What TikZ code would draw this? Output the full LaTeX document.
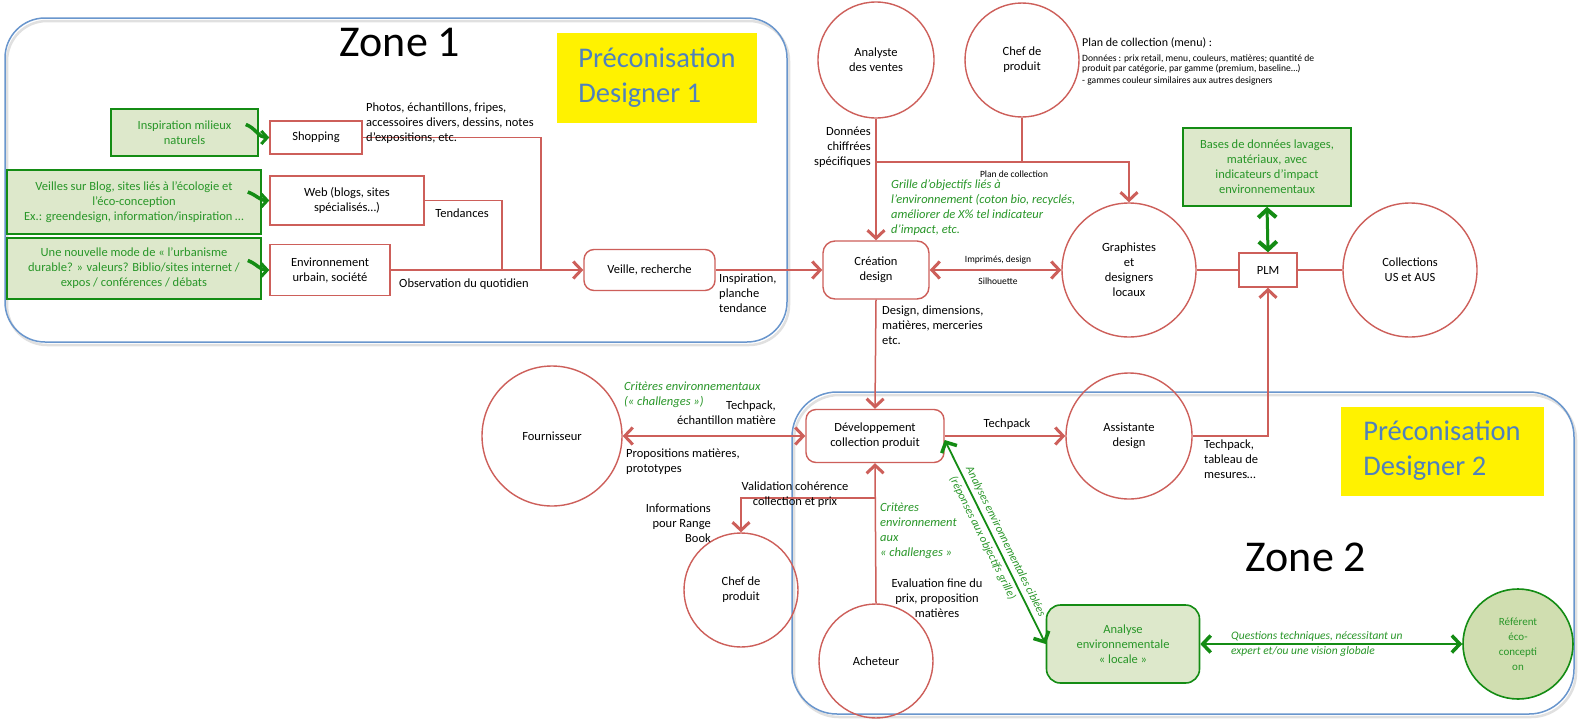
\documentclass[tikz,border=0pt]{standalone}
\usepackage{fontspec}
\setmainfont{Carlito}
\usetikzlibrary{arrows.meta,calc}
\definecolor{redc}{RGB}{205,95,90}
\definecolor{zblue}{RGB}{105,150,205}
\definecolor{ptxt}{RGB}{79,129,189}
\definecolor{gdark}{RGB}{20,140,20}
\definecolor{gtext}{RGB}{40,150,40}
\definecolor{gfill}{RGB}{221,232,203}
\definecolor{gfill2}{RGB}{208,222,176}
\tikzset{
  base/.style={font=\fontsize{12.5}{15}\selectfont, align=center, inner sep=0pt},
  rbox/.style={base, draw=redc, line width=1.4pt, fill=white},
  rcirc/.style={base, draw=redc, line width=1.4pt, circle},
  gbox/.style={base, draw=gdark, line width=1.6pt, fill=gfill, text=gtext},
  lab/.style={font=\fontsize{12.5}{15}\selectfont, inner sep=0pt},
  glab/.style={font=\fontsize{12.5}{15}\selectfont\itshape, inner sep=0pt, text=gtext},
  smalllab/.style={font=\fontsize{9.5}{12}\selectfont, inner sep=0pt},
  zone/.style={draw=zblue, line width=1.5pt},
  zoneshadow/.style={draw=black!12, line width=2.5pt},
  zonetitle/.style={font=\fontsize{44}{50}\selectfont, inner sep=0pt},
  preco/.style={fill=yellow, text=ptxt, font=\fontsize{28.5}{35}\selectfont, align=left, inner sep=0pt},
  rl/.style={draw=redc, line width=1.5pt},
  rarr/.style={rl, -{Straight Barb[length=8pt,width=17pt,line width=3pt]}},
  rdarr/.style={rl, {Straight Barb[length=8pt,width=17pt,line width=3pt]}-{Straight Barb[length=8pt,width=17pt,line width=3pt]}},
  garr/.style={draw=gdark, line width=3.5pt, -{Straight Barb[length=6pt,width=13pt,line width=3pt]}},
  gdarr/.style={draw=gdark, line width=3pt, {Straight Barb[length=8pt,width=18pt,line width=4pt]}-{Straight Barb[length=8pt,width=18pt,line width=4pt]}},
  gdarr2/.style={draw=gdark, line width=1.8pt, {Straight Barb[length=8pt,width=17pt,line width=3.5pt]}-{Straight Barb[length=8pt,width=17pt,line width=3.5pt]}},
  slopelab/.style={sloped, font=\fontsize{11.5}{13}\selectfont\itshape, text=gtext, inner sep=0pt},
}
\begin{document}
\begin{tikzpicture}[x=1pt,y=-1pt]
\useasboundingbox (0,0) rectangle (1579,718);
\fill[white] (0,0) rectangle (1579,718);

% zones
\draw[zoneshadow, rounded corners=40pt] (7,21) rectangle (789,345);
\draw[zoneshadow, rounded corners=45pt] (794,395) rectangle (1576,717);
\draw[zone, rounded corners=40pt] (5,18) rectangle (787,342);
\draw[zone, rounded corners=45pt] (792,392) rectangle (1574,714);
\node[zonetitle] (z1) at (400,42) {Zone 1};
\node[zonetitle] (z2) at (1306,557) {Zone 2};
\node[preco, minimum width=200pt, minimum height=90pt] (p1) at (657,78) {Préconisation\\Designer 1};
\node[preco, minimum width=203pt, minimum height=89pt] (p2) at (1442,451) {Préconisation\\Designer 2};

% green boxes zone 1
\node[gbox, minimum width=147pt, minimum height=47pt] (g1) at (184.5,132.5) {Inspiration milieux\\naturels};
\node[gbox, minimum width=254pt, minimum height=64pt] (g2) at (134,202) {Veilles sur Blog, sites liés à l’écologie et\\l’éco-conception\\Ex.: greendesign, information/inspiration …};
\node[gbox, minimum width=254pt, minimum height=61pt] (g3) at (134,268.5) {Une nouvelle mode de « l’urbanisme\\durable? » valeurs? Biblio/sites internet /\\expos / conférences / débats};

% red boxes zone 1
\node[rbox, minimum width=92pt, minimum height=33pt] (shop) at (316,137.5) {Shopping};
\node[rbox, minimum width=154pt, minimum height=49pt] (web) at (347,200.5) {Web (blogs, sites\\spécialisés…)};
\node[rbox, minimum width=120pt, minimum height=51pt] (env) at (330,270) {Environnement\\urbain, société};
\node[rbox, rounded corners=10pt, minimum width=131pt, minimum height=41pt] (veille) at (649.5,270) {Veille, recherche};

% central nodes
\node[rbox, rounded corners=12pt, minimum width=106pt, minimum height=58pt] (crea) at (876,270) {Création\\design};
\node[rcirc, minimum size=116pt] (analyste) at (876,60) {Analyste\\des ventes};
\node[rcirc, minimum size=114pt] (chef1) at (1022,60) {Chef de\\produit};
\node[rcirc, minimum size=134pt] (graph) at (1129,270) {Graphistes\\et\\designers\\locaux};
\node[rbox, minimum width=58pt, minimum height=34pt] (plm) at (1268,270) {PLM};
\node[rcirc, minimum size=134pt] (coll) at (1410,270) {Collections\\US et AUS};
\node[gbox, minimum width=168pt, minimum height=78pt] (db) at (1267,167) {Bases de données lavages,\\matériaux, avec\\indicateurs d’impact\\environnementaux};

% zone 2 nodes
\node[rbox, rounded corners=10pt, minimum width=138pt, minimum height=53pt] (dev) at (875,436) {Développement\\collection produit};
\node[rcirc, minimum size=140pt] (fourn) at (552,436) {Fournisseur};
\node[rcirc, minimum size=126pt] (assist) at (1129,436) {Assistante\\design};
\node[rcirc, minimum size=114pt] (chef2) at (741,590) {Chef de\\produit};
\node[rcirc, minimum size=114pt] (ach) at (876,661) {Acheteur};
\node[gbox, rounded corners=14pt, minimum width=153pt, minimum height=78pt] (ana) at (1123,644) {Analyse\\environnementale\\« locale »};
\node[gbox, circle, fill=gfill2, minimum size=110pt, font=\fontsize{11}{15}\selectfont] (ref) at (1518,644) {Référent\\éco-\\concepti\\on};

% connectors zone 1
\coordinate (j1) at (541,270);
\coordinate (j2) at (502,270);
\draw[rl] (shop.east) -| (j1);
\draw[rl] (web.east) -| (j2);
\draw[rarr] (env.east) -- (veille.west);
\draw[garr] ([xshift=-13pt,yshift=8pt]g1.east) to[out=-20,in=180] (shop.west);
\draw[garr] ([xshift=-14pt,yshift=10pt]g2.east) to[out=-20,in=180] (web.west);
\draw[garr] ([xshift=-14pt,yshift=8pt]g3.east) to[out=-20,in=180] (env.west);
\draw[rarr] (veille.east) -- (crea.west);

% central connectors
\draw[rarr] (analyste.south) -- (crea.north);
\coordinate (ja) at (876,162);
\coordinate (jc) at (1022,162);
\draw[rl] (chef1.south) -- (jc);
\draw[rarr] (ja) -| (graph.north);
\draw[rdarr] (crea.east) -- (graph.west);
\draw[rl] (graph.east) -- (plm.west);
\draw[rl] (plm.east) -- (coll.west);
\draw[gdarr] (db.south) -- (plm.north);
\draw[rarr] (crea.south) -- (dev.north);

% zone 2 connectors
\draw[rdarr] (fourn.east) -- (dev.west);
\draw[rarr] (dev.east) -- (assist.west);
\draw[rarr] (assist.east) -| (plm.south);
\draw[rarr] (ach.north) -- (dev.south);
\coordinate (jv) at (876,498);
\draw[rarr] (jv) -| (chef2.north);
\draw[gdarr2] ([yshift=-4pt]dev.east) -- (ana.west)
  node[slopelab, above=3.5pt, pos=0.52] (t1) {Analyses environnementales ciblées}
  node[slopelab, below=3.5pt, pos=0.46] (t2) {(réponses aux objectifs grille)};
\draw[gdarr2] (ana.east) -- (ref.west);

% labels
\node[lab, anchor=north west, align=left] (l1) at (366,103) {Photos, échantillons, fripes,\\accessoires divers, dessins, notes\\d’expositions, etc.};
\node[lab] (l2) at (462,213) {Tendances};
\node[lab] (l3) at (464,284) {Observation du quotidien};
\node[lab, anchor=north west, align=left] (l4) at (719,274) {Inspiration,\\planche\\tendance};
\node[lab, anchor=north east, align=right] (l5) at (871,127) {Données\\chiffrées\\spécifiques};
\node[smalllab] (l6) at (1014,174) {Plan de collection};
\node[glab, anchor=north west, align=left] (l7) at (891,180) {Grille d’objectifs liés à\\l’environnement (coton bio, recyclés,\\améliorer de X\% tel indicateur\\d’impact, etc.};
\node[smalllab] (l8) at (998,260) {Imprimés, design};
\node[smalllab] (l9) at (998,281) {Silhouette};
\node[lab, anchor=north west, align=left] (l10) at (882,306) {Design, dimensions,\\matières, merceries\\etc.};
\node[font=\fontsize{12}{13}\selectfont, inner sep=0pt, anchor=north west] (l11) at (1082,38) {Plan de collection (menu) :};
\node[font=\fontsize{9.6}{9.5}\selectfont, inner sep=0pt, anchor=north west, align=left] (l12) at (1082,55) {Données : prix retail, menu, couleurs, matières; quantité de\\produit par catégorie, par gamme (premium, baseline…)};
\node[font=\fontsize{9.6}{9.5}\selectfont, inner sep=0pt, anchor=north west] (l13) at (1082,77) {- gammes couleur similaires aux autres designers};

\node[glab, anchor=north west, align=left] (l14) at (624,382) {Critères environnementaux\\(« challenges »)};
\node[lab, anchor=north east, align=right] (l15) at (776,401) {Techpack,\\échantillon matière};
\node[lab, anchor=north west, align=left] (l16) at (626,449) {Propositions matières,\\prototypes};
\node[lab] (l17) at (1007,424) {Techpack};
\node[lab, anchor=north west, align=left] (l18) at (1204,440) {Techpack,\\tableau de\\mesures…};
\node[lab, align=center] (l19) at (795,495) {Validation cohérence\\collection et prix};
\node[lab, anchor=north east, align=right] (l20) at (711,504) {Informations\\pour Range\\Book};
\node[glab, anchor=north west, align=left] (l21) at (880,503) {Critères\\environnement\\aux\\« challenges »};
\node[lab, align=center] (l22) at (937,598) {Evaluation fine du\\prix, proposition\\matières};
\node[font=\fontsize{11.5}{15}\selectfont\itshape, text=gtext, inner sep=0pt, anchor=west, align=left] (l23) at (1231,644) {Questions techniques, nécessitant un\\expert et/ou une vision globale};
\end{tikzpicture}
\end{document}
